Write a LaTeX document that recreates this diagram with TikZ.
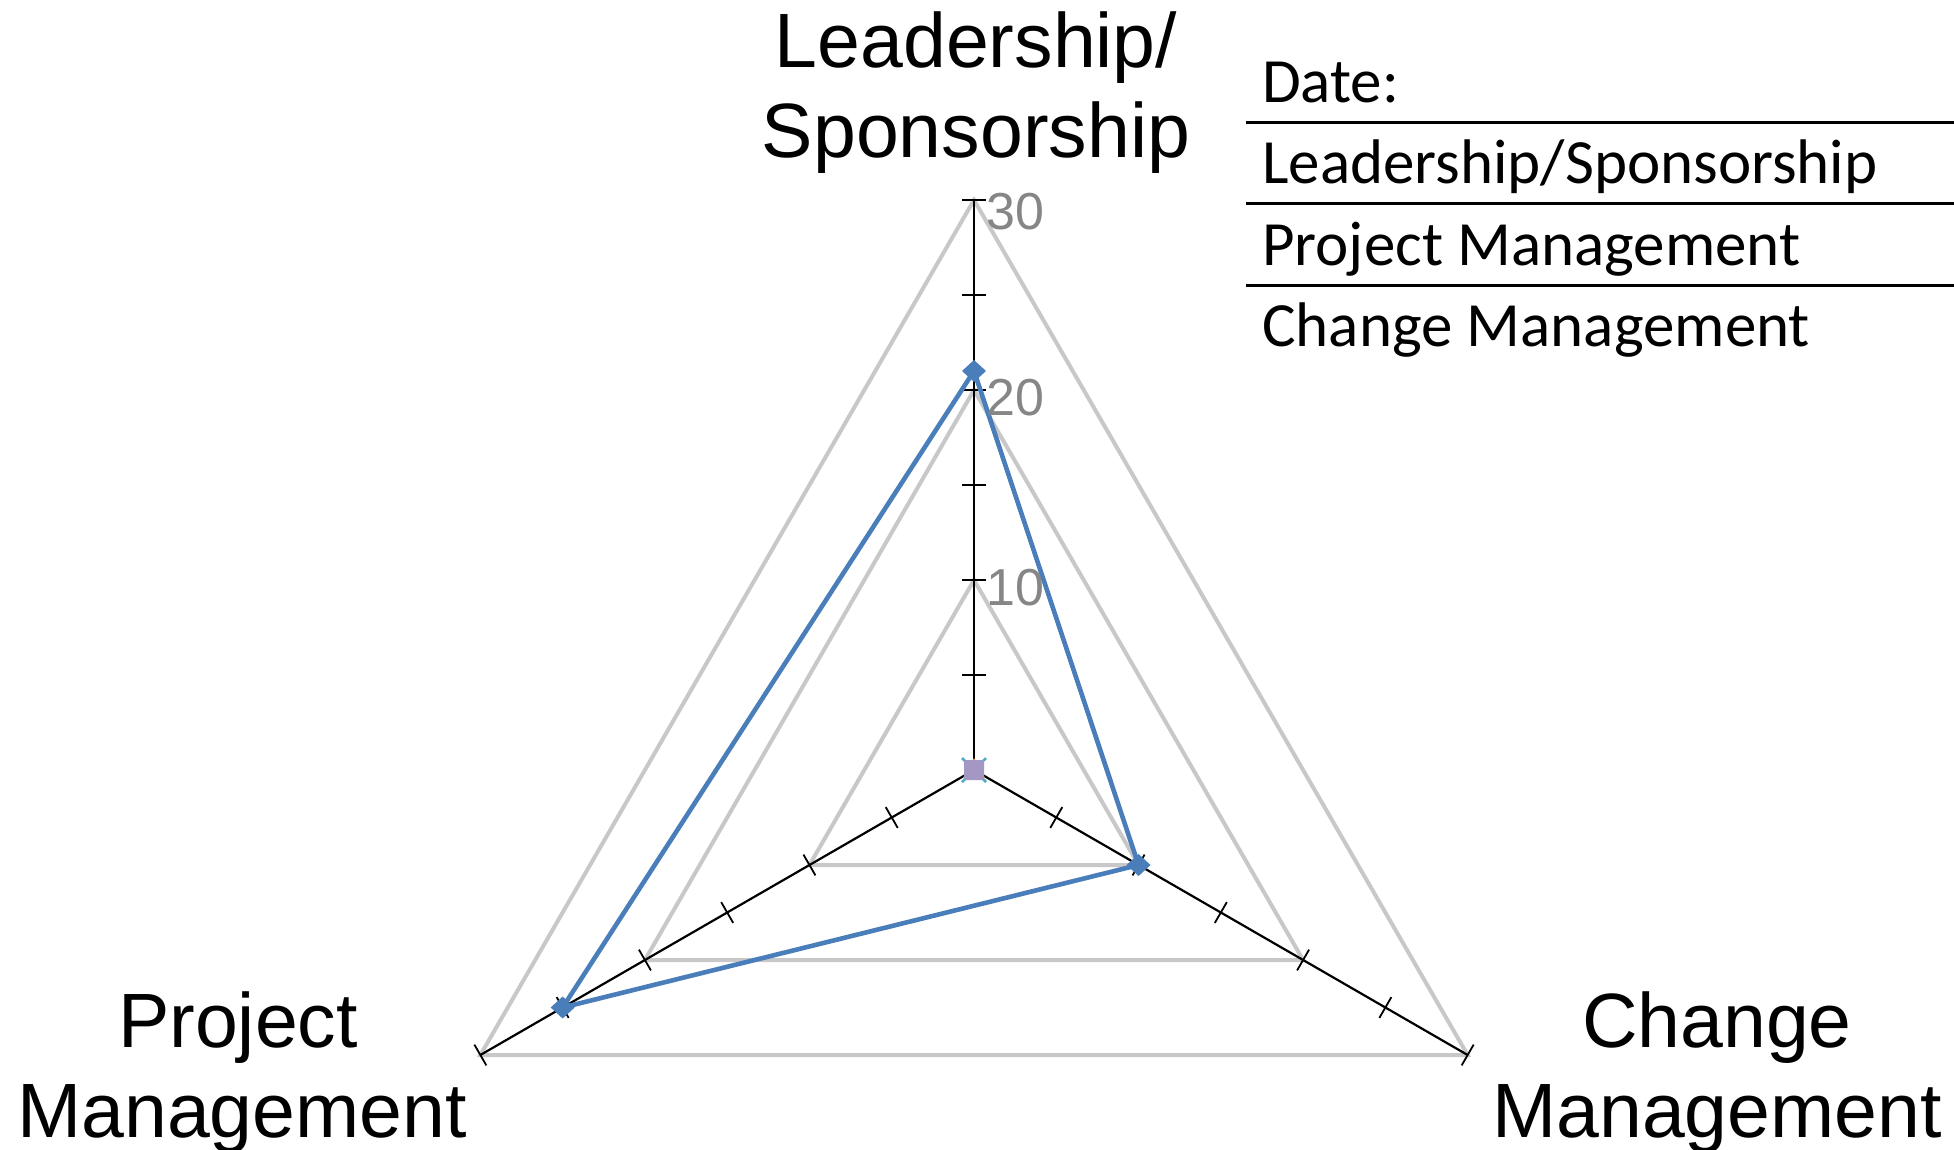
\documentclass[tikz,border=0pt]{standalone}
\usepackage{fontspec}
\usetikzlibrary{calc}
\newfontfamily\arialf{Liberation Sans}
\newfontfamily\calf{Carlito}
\definecolor{serblue}{HTML}{4A7EBB}
\definecolor{gridgray}{HTML}{C8C8C8}
\definecolor{numgray}{HTML}{868686}
\definecolor{mkcyan}{HTML}{4BACC6}
\definecolor{mkorange}{HTML}{F79646}
\definecolor{mkpurple}{HTML}{A597C4}
\tikzset{
  gridline/.style={draw=gridgray, line width=4pt, line join=miter},
  axisline/.style={draw=black, line width=2.2pt},
  tickmark/.style={draw=black, line width=1.8pt},
  series/.style={draw=serblue, line width=4.6pt, line join=round},
  bigtxt/.style={inner sep=0pt, anchor=base, font=\arialf\fontsize{77}{90}\selectfont},
  numtxt/.style={inner sep=0pt, anchor=west, text=numgray, font=\arialf\fontsize{52}{60}\selectfont},
  tabtxt/.style={inner sep=0pt, anchor=base west, font=\calf\fontsize{63}{74}\selectfont},
  tabrule/.style={draw=black, line width=3pt},
  diam/.style={fill=serblue, draw=none}
}
\begin{document}
\begin{tikzpicture}[x=1pt,y=-1pt]
\useasboundingbox[fill=white] (0,0) rectangle (1954,1149);
\coordinate (O) at (974,770);
\begin{scope}[shift={(974,770)}]
  % grid triangles
  \foreach \r in {190,380,570}{
    \draw[gridline] (-90:\r) -- (150:\r) -- (30:\r) -- cycle;
  }
  % axes
  \coordinate (vT) at (-90:570);
  \coordinate (vL) at (150:570);
  \coordinate (vR) at (30:570);
  \draw[axisline] (O) -- (vT);
  \draw[axisline] (O) -- (vL);
  \draw[axisline] (O) -- (vR);
  % ticks
  \foreach \k in {1,...,6}{
    \draw[tickmark] ($(-90:\k*95)+(180:12)$) -- ($(-90:\k*95)+(0:12)$);
    \draw[tickmark] ($(150:\k*95)+(60:12)$) -- ($(150:\k*95)+(240:12)$);
    \draw[tickmark] ($(30:\k*95)+(120:12)$) -- ($(30:\k*95)+(-60:12)$);
  }
  % data points
  \coordinate (pT) at (-90:399);
  \coordinate (pL) at (150:475);
  \coordinate (pR) at (30:190);
\end{scope}
\draw[series] (pT) -- (pL) -- (pR) -- cycle;
\foreach \p in {pT,pL,pR}{
  \fill[diam] ($(\p)+(-12,0)$) -- ($(\p)+(0,-11)$) -- ($(\p)+(12,0)$) -- ($(\p)+(0,11)$) -- cycle;
}
% centre markers of empty series
\draw[mkcyan, line width=2.5pt] ($(O)+(-12,-12)$) -- ($(O)+(12,12)$);
\draw[mkcyan, line width=2.5pt] ($(O)+(-12,12)$) -- ($(O)+(12,-12)$);
\fill[mkorange] ($(O)+(0,-12)$) -- ($(O)+(11,8)$) -- ($(O)+(-11,8)$) -- cycle;
\fill[mkpurple, rounded corners=2pt] ($(O)+(-10,-10)$) rectangle ($(O)+(10,10)$);
% value labels
\node[numtxt] (n30) at (986,212) {30};
\node[numtxt] (n20) at (986,398) {20};
\node[numtxt] (n10) at (986,588) {10};
% axis labels
\node[bigtxt] (ls1) at (976,67) {Leadership/};
\node[bigtxt] (ls2) at (976,157) {Sponsorship};
\node[bigtxt] (pm1) at (238,1047) {Project};
\node[bigtxt] (pm2) at (242,1137) {Management};
\node[bigtxt] (cm1) at (1717,1047) {Change};
\node[bigtxt] (cm2) at (1717,1137) {Management};
% table
\node[tabtxt] (tdate) at (1262,102) {Date:};
\node[tabtxt] (tls) at (1262,183) {Leadership/Sponsorship};
\node[tabtxt] (tpm) at (1262,265) {Project Management};
\node[tabtxt] (tcm) at (1262,346) {Change Management};
\coordinate (r1a) at (1246,122); \coordinate (r1b) at (1954,122);
\coordinate (r2a) at (1246,203); \coordinate (r2b) at (1954,203);
\coordinate (r3a) at (1246,285); \coordinate (r3b) at (1954,285);
\draw[tabrule] (r1a) -- (r1b);
\draw[tabrule] (r2a) -- (r2b);
\draw[tabrule] (r3a) -- (r3b);
\end{tikzpicture}
\end{document}
